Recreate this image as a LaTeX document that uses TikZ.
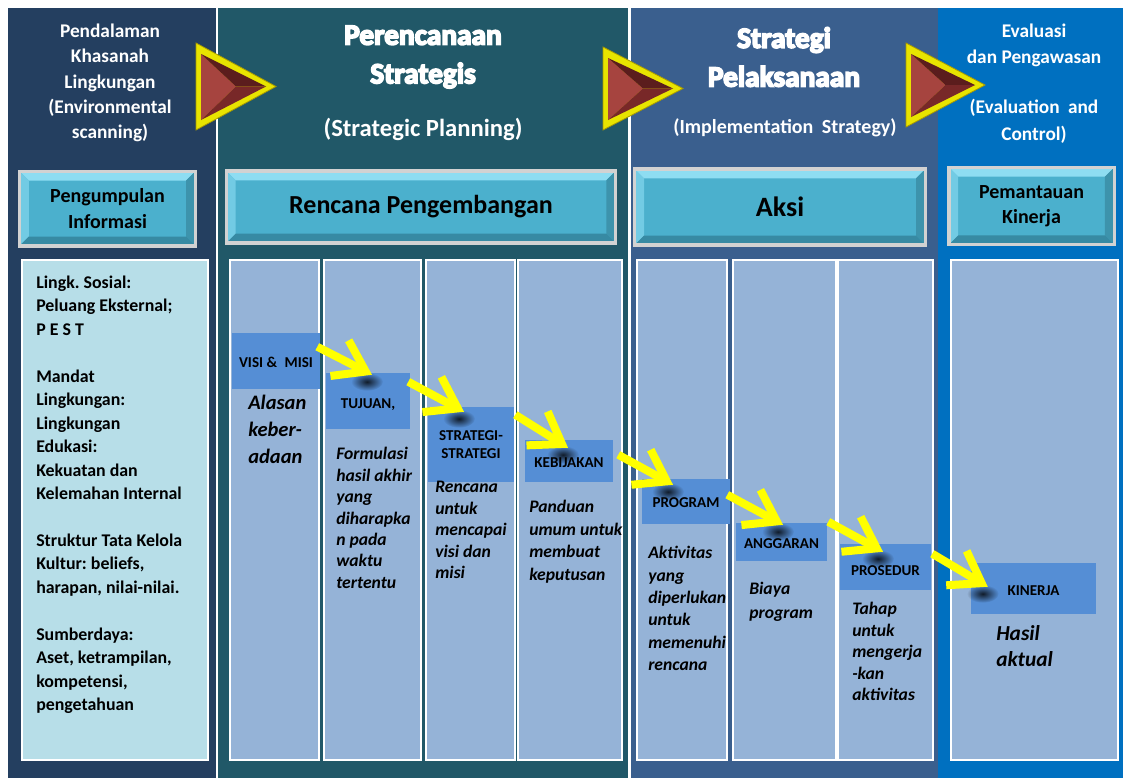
\documentclass[tikz,border=0pt]{standalone}
\usepackage{fontspec}
\setmainfont{Carlito}
\frenchspacing
\newcommand\heavytext[1]{\special{pdf:code 2 Tr 1.2 w}#1\special{pdf:code 0 Tr}}
\usetikzlibrary{arrows.meta,calc,fadings}
\definecolor{colA}{HTML}{243F60}
\definecolor{colB}{HTML}{215868}
\definecolor{colC}{HTML}{3A5F8E}
\definecolor{colD}{HTML}{0070C0}
\definecolor{pnl}{HTML}{95B3D7}
\definecolor{pnlL}{HTML}{B7DEE8}
\definecolor{lblc}{HTML}{558ED5}
\definecolor{btnmid}{HTML}{4BB0CD}
\definecolor{btntop}{HTML}{8EDDF2}
\definecolor{btnleft}{HTML}{72CBE4}
\definecolor{btnright}{HTML}{3D93AC}
\definecolor{btnbot}{HTML}{378AA3}
\definecolor{btnrim}{HTML}{D2D2D2}
\definecolor{triyel}{HTML}{E8E400}
\definecolor{triedge}{HTML}{A89A00}
\definecolor{trilight}{HTML}{A6443F}
\definecolor{tridark}{HTML}{5B1D1D}
\definecolor{trimid}{HTML}{782828}
\definecolor{arryel}{HTML}{FFFF00}
\tikzfading[name=blobfade, inner color=transparent!0, outer color=transparent!100]
\newcommand\bevtri[4]{% left x, top y, bottom y, tip x
  \fill[triyel, draw=triedge, line width=0.6pt] (#1,#2) -- (#4,{(#2+#3)/2}) -- (#1,#3) -- cycle;
  \fill[trilight] (#1+5,#2+11) -- ({#1+0.5*(#4-#1)},{(#2+#3)/2}) -- (#1+5,#3-10) -- cycle;
  \fill[tridark] (#1+5,#2+11) -- (#4-10,{(#2+#3)/2}) -- ({#1+0.5*(#4-#1)},{(#2+#3)/2}) -- cycle;
  \fill[trimid] (#1+5,#3-10) -- (#4-10,{(#2+#3)/2}) -- ({#1+0.5*(#4-#1)},{(#2+#3)/2}) -- cycle;
}
\tikzset{
  colhead/.style={text=white, font=\bfseries\fontsize{14.5}{19}\selectfont, align=center, inner sep=0pt},
  bigtitle/.style={text=white, font=\bfseries\fontsize{22}{29}\selectfont, align=center, inner sep=0pt},
  subtitle/.style={text=white, font=\bfseries\fontsize{18.5}{22}\selectfont, inner sep=0pt},
  btnbox/.style={draw=btnrim, line width=2.5pt, fill=btnmid, inner sep=0pt, align=center,
    font=\bfseries\fontsize{15}{19}\selectfont,
    path picture={
      \fill[btntop] (path picture bounding box.north west) -- (path picture bounding box.north east)
        -- ([xshift=-7pt,yshift=-7pt]path picture bounding box.north east)
        -- ([xshift=7pt,yshift=-7pt]path picture bounding box.north west) -- cycle;
      \fill[btnleft] (path picture bounding box.north west) -- ([xshift=7pt,yshift=-7pt]path picture bounding box.north west)
        -- ([xshift=7pt,yshift=7pt]path picture bounding box.south west) -- (path picture bounding box.south west) -- cycle;
      \fill[btnright] (path picture bounding box.north east) -- ([xshift=-7pt,yshift=-7pt]path picture bounding box.north east)
        -- ([xshift=-7pt,yshift=7pt]path picture bounding box.south east) -- (path picture bounding box.south east) -- cycle;
      \fill[btnbot] (path picture bounding box.south west) -- ([xshift=7pt,yshift=7pt]path picture bounding box.south west)
        -- ([xshift=-7pt,yshift=7pt]path picture bounding box.south east) -- (path picture bounding box.south east) -- cycle;
    }},
  panel/.style={fill=pnl, draw=white, line width=1.5pt},
  lbl/.style={fill=lblc, inner sep=0pt, align=center, font=\bfseries\fontsize{11.3}{13.5}\selectfont},
  desc/.style={anchor=north west, inner sep=0pt, align=left, font=\bfseries\itshape\fontsize{13.2}{16.1}\selectfont},
  yarr/.style={draw=arryel, line width=6pt, -{Straight Barb[length=22pt,width=30pt]}},
  blob/.style={fill=black, opacity=0.8, path fading=blobfade},
}
\begin{document}
\begin{tikzpicture}[x=0.75pt,y=-0.75pt]
\useasboundingbox (0,0) rectangle (1123,778);
\fill[white] (0,0) rectangle (1123,778);
% columns
\fill[colA] (8,8) rectangle (216,778);
\fill[colB] (218,8) rectangle (628,778);
\fill[colC] (631,8) rectangle (938,778);
\fill[colD] (938,8) rectangle (1123,778);

% headers
\node[colhead] (h1) at (110,83) {Pendalaman\\Khasanah\\Lingkungan\\(Environmental\\scanning)};
\node[bigtitle] (h2) at (423,57) {\heavytext{Perencanaan}\\\heavytext{Strategis}};
\node[subtitle] (h2b) at (423,129) {(Strategic Planning)};
\node[bigtitle] (h3) at (784,57) {\heavytext{Strategi}\\\heavytext{Pelaksanaan}};
\node[subtitle, font=\bfseries\fontsize{15}{18}\selectfont] (h3b) at (785,128) {(Implementation\hspace{3pt} Strategy)};
\node[colhead, font=\bfseries\fontsize{14.5}{19.5}\selectfont] (h4a) at (1034,45) {Evaluasi\\dan Pengawasan};
\node[colhead, font=\bfseries\fontsize{14.5}{20}\selectfont] (h4b) at (1034,121) {(Evaluation\hspace{3pt} and\\Control)};

% triangles
\bevtri{196}{43}{130}{276}
\bevtri{603}{47}{130}{683}
\bevtri{906}{43}{127}{985}

% buttons
\node[btnbox, minimum width=132pt, minimum height=56pt] (b1) at (107.5,208.5) {Pengumpulan\\Informasi};
\node[btnbox, minimum width=292pt, minimum height=54pt, font=\bfseries\fontsize{19.5}{23}\selectfont] (b2) at (421,207) {Rencana Pengembangan};
\node[btnbox, minimum width=218pt, minimum height=57pt, font=\bfseries\fontsize{21}{25}\selectfont] (b3) at (780,207) {Aksi};
\node[btnbox, minimum width=124pt, minimum height=58pt] (b4) at (1031.5,206) {Pemantauan\\Kinerja};

% panels
\draw[panel, fill=pnlL] (22,260) rectangle (208,760);
\draw[panel] (230,260) rectangle (319,760);
\draw[panel] (324,260) rectangle (421,760);
\draw[panel] (426,260) rectangle (515,760);
\draw[panel] (518,260) rectangle (622,760);
\draw[panel] (637,260) rectangle (727,760);
\draw[panel] (733,260) rectangle (836,760);
\draw[panel] (838,260) rectangle (933,760);
\draw[panel] (951,260) rectangle (1118,760);

% left panel text
\node[anchor=north west, inner sep=0pt, align=left, font=\bfseries\fontsize{13.4}{17.6}\selectfont] (envtext) at (36,275.5)
{Lingk. Sosial:\\Peluang Eksternal;\\P E S T\\[17.6pt]Mandat\\Lingkungan:\\Lingkungan\\Edukasi:\\Kekuatan dan\\Kelemahan Internal\\[17.6pt]Struktur Tata Kelola\\Kultur: beliefs,\\harapan, nilai-nilai.\\[17.6pt]Sumberdaya:\\Aset, ketrampilan,\\kompetensi,\\pengetahuan};

% label boxes
\node[lbl, minimum width=66pt, minimum height=42pt] (visi) at (276,361) {\raisebox{-1pt}[7pt][0pt]{VISI \&\hspace{3pt} MISI}};
\node[lbl, minimum width=63pt, minimum height=42pt] (tujuan) at (368,401) {\raisebox{-2pt}[7pt][0pt]{TUJUAN,}};
\node[lbl, minimum width=64.5pt, minimum height=56.25pt] (strategi) at (471,444.5) {STRATEGI-\\STRATEGI};
\node[lbl, minimum width=66pt, minimum height=31.5pt] (kebijakan) at (569,461) {\raisebox{-1pt}[7pt][0pt]{KEBIJAKAN}};
\node[lbl, minimum width=66pt, minimum height=33.75pt] (program) at (686,501.5) {\raisebox{-1pt}[7pt][0pt]{PROGRAM}};
\node[lbl, minimum width=68.25pt, minimum height=28.5pt] (anggaran) at (781.5,542) {\raisebox{-1pt}[7pt][0pt]{ANGGARAN}};
\node[lbl, minimum width=68.25pt, minimum height=34.5pt] (prosedur) at (885.5,567) {\raisebox{-3pt}[7pt][0pt]{PROSEDUR}};
\node[lbl, minimum width=93.75pt, minimum height=38.25pt] (kinerja) at (1033.5,588.5) {\raisebox{-2pt}[7pt][0pt]{KINERJA}};

% descriptions
\node[desc, font=\bfseries\itshape\fontsize{15.4}{20.2}\selectfont] (d1) at (248,395) {Alasan\\keber-\\adaan};
\node[desc] (d2) at (336,447) {Formulasi\\hasil akhir\\yang\\diharapka\\n pada\\waktu\\tertentu};
\node[desc] (d3) at (435,481) {Rencana\\untuk\\mencapai\\visi dan\\misi};
\node[desc, font=\bfseries\itshape\fontsize{13.2}{17}\selectfont] (d4) at (529,500) {Panduan\\umum untuk\\membuat\\keputusan};
\node[desc, font=\bfseries\itshape\fontsize{13.2}{16.8}\selectfont] (d5) at (648,546) {Aktivitas\\yang\\diperlukan\\untuk\\memenuhi\\rencana};
\node[desc, font=\bfseries\itshape\fontsize{13.2}{18}\selectfont] (d6) at (749,582) {Biaya\\program};
\node[desc] (d7) at (852,602) {Tahap\\untuk\\mengerja\\-kan\\aktivitas};
\node[desc, font=\bfseries\itshape\fontsize{16}{19.5}\selectfont] (d8) at (996,625) {Hasil\\aktual};

% arrows
\coordinate (s1) at ($(visi.north east)+(-3,14)$);
\coordinate (e1) at ($(tujuan.north)+(4,2)$);
\coordinate (s2) at ($(tujuan.north east)+(-2,9)$);
\coordinate (e2) at ($(strategi.north)+(-7,5)$);
\coordinate (s3) at ($(strategi.north east)+(1,8)$);
\coordinate (e3) at ($(kebijakan.north)+(-1,8)$);
\coordinate (s4) at ($(kebijakan.north east)+(5,15)$);
\coordinate (e4) at ($(program.north)+(-13,6)$);
\coordinate (s5) at ($(program.north east)+(-3,16)$);
\coordinate (e5) at ($(anggaran.north)+(1.5,2)$);
\coordinate (s6) at ($(anggaran.north east)+(1,-1)$);
\coordinate (e6) at ($(prosedur.north)+(-2.5,8)$);
\coordinate (s7) at ($(prosedur.north east)+(1,10)$);
\coordinate (e7) at ($(kinerja.north west)+(17,24)$);
\foreach \i in {1,...,7}{
  \fill[blob] ($(e\i)+(-5,7)$) ellipse (16 and 9);
}
\foreach \i in {1,...,7}{
  \draw[yarr] (s\i) -- (e\i);
}
\end{tikzpicture}
\end{document}
